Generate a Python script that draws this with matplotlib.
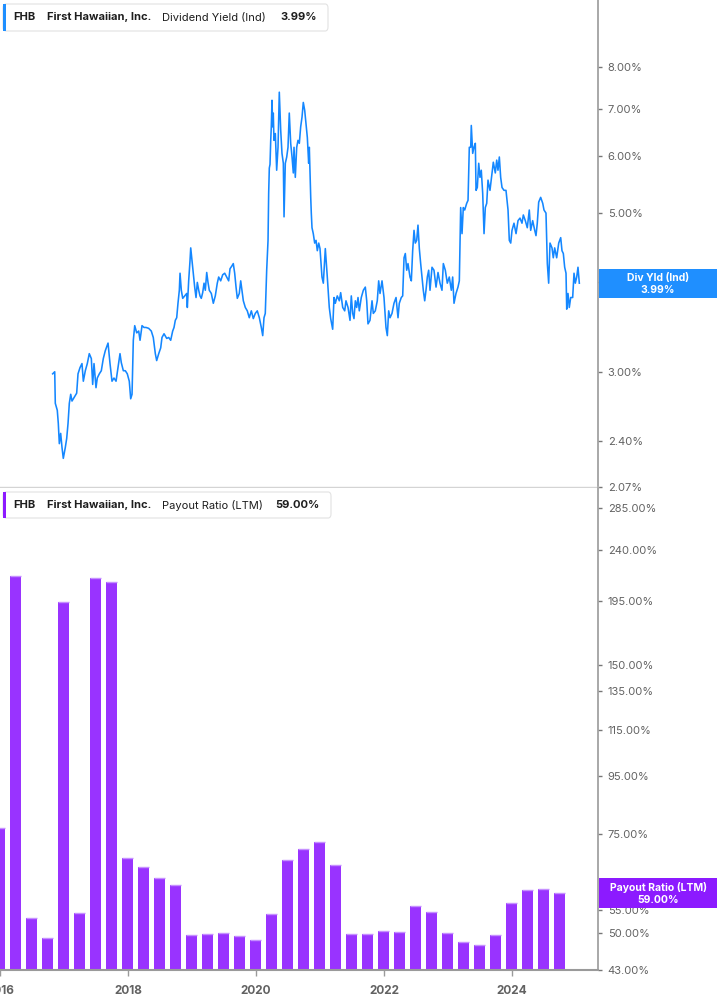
import numpy as np
import pandas as pd
import matplotlib
matplotlib.use("Agg")
import matplotlib.pyplot as plt
from matplotlib.patches import Rectangle, FancyBboxPatch

plt.rcParams["font.family"] = ["Inter", "DejaVu Sans"]

# --------------------------------------------------------------------------- #
# data
# --------------------------------------------------------------------------- #
# dividend yield (ind), decimal year -> %
yld_t = [
    2016.823, 2016.855, 2016.864, 2016.895, 2016.911, 2016.927, 2016.948, 2016.969, 2016.989, 2017.020,
    2017.042, 2017.063, 2017.083, 2017.105, 2017.125, 2017.167, 2017.198, 2017.219, 2017.250, 2017.281,
    2017.302, 2017.333, 2017.364, 2017.395, 2017.427, 2017.448, 2017.469, 2017.500, 2017.520, 2017.552,
    2017.583, 2017.614, 2017.645, 2017.688, 2017.719, 2017.750, 2017.781, 2017.813, 2017.844, 2017.875,
    2017.895, 2017.927, 2017.958, 2017.989, 2018.020, 2018.042, 2018.063, 2018.083, 2018.105, 2018.136,
    2018.167, 2018.188, 2018.219, 2018.250, 2018.281, 2018.323, 2018.364, 2018.395, 2018.427, 2018.448,
    2018.480, 2018.511, 2018.531, 2018.563, 2018.605, 2018.636, 2018.667, 2018.698, 2018.719, 2018.739,
    2018.761, 2018.781, 2018.802, 2018.813, 2018.833, 2018.855, 2018.886, 2018.917, 2018.927, 2018.948,
    2018.969, 2018.980, 2019.000, 2019.020, 2019.042, 2019.063, 2019.083, 2019.105, 2019.125, 2019.145,
    2019.167, 2019.188, 2019.208, 2019.230, 2019.250, 2019.270, 2019.302, 2019.333, 2019.364, 2019.395,
    2019.417, 2019.448, 2019.480, 2019.511, 2019.542, 2019.573, 2019.594, 2019.625, 2019.645, 2019.667,
    2019.688, 2019.708, 2019.739, 2019.761, 2019.781, 2019.802, 2019.833, 2019.864, 2019.895, 2019.927,
    2019.958, 2019.989, 2020.020, 2020.052, 2020.083, 2020.105, 2020.125, 2020.145, 2020.167, 2020.188,
    2020.198, 2020.208, 2020.219, 2020.230, 2020.239, 2020.250, 2020.261, 2020.270, 2020.281, 2020.302,
    2020.323, 2020.344, 2020.364, 2020.386, 2020.406, 2020.427, 2020.438, 2020.458, 2020.480, 2020.500,
    2020.520, 2020.542, 2020.563, 2020.583, 2020.594, 2020.614, 2020.636, 2020.656, 2020.677, 2020.698,
    2020.719, 2020.739, 2020.761, 2020.781, 2020.802, 2020.823, 2020.833, 2020.855, 2020.864, 2020.875,
    2020.895, 2020.917, 2020.938, 2020.958, 2020.980, 2021.000, 2021.031, 2021.052, 2021.083, 2021.114,
    2021.145, 2021.167, 2021.198, 2021.219, 2021.239, 2021.270, 2021.302, 2021.323, 2021.355, 2021.386,
    2021.406, 2021.438, 2021.469, 2021.489, 2021.511, 2021.531, 2021.552, 2021.573, 2021.594, 2021.614,
    2021.645, 2021.677, 2021.708, 2021.730, 2021.750, 2021.781, 2021.813, 2021.833, 2021.864, 2021.895,
    2021.917, 2021.938, 2021.969, 2022.000, 2022.031, 2022.052, 2022.073, 2022.094, 2022.125, 2022.156,
    2022.188, 2022.219, 2022.239, 2022.270, 2022.292, 2022.313, 2022.333, 2022.355, 2022.375, 2022.406,
    2022.427, 2022.448, 2022.469, 2022.489, 2022.511, 2022.531, 2022.552, 2022.573, 2022.594, 2022.614,
    2022.636, 2022.656, 2022.677, 2022.698, 2022.719, 2022.750, 2022.781, 2022.813, 2022.844, 2022.875,
    2022.906, 2022.927, 2022.958, 2022.989, 2023.020, 2023.052, 2023.073, 2023.094, 2023.125, 2023.156,
    2023.177, 2023.198, 2023.219, 2023.239, 2023.261, 2023.292, 2023.313, 2023.333, 2023.355, 2023.364,
    2023.386, 2023.406, 2023.427, 2023.438, 2023.458, 2023.480, 2023.500, 2023.520, 2023.542, 2023.563,
    2023.583, 2023.605, 2023.625, 2023.656, 2023.688, 2023.708, 2023.739, 2023.761, 2023.781, 2023.802,
    2023.823, 2023.844, 2023.875, 2023.906, 2023.938, 2023.958, 2023.980, 2024.000, 2024.031, 2024.063,
    2024.094, 2024.125, 2024.156, 2024.177, 2024.208, 2024.239, 2024.270, 2024.292, 2024.323, 2024.355,
    2024.375, 2024.395, 2024.417, 2024.448, 2024.480, 2024.500, 2024.531, 2024.552, 2024.573, 2024.594,
    2024.625, 2024.645, 2024.667, 2024.698, 2024.730, 2024.761, 2024.781, 2024.802, 2024.823, 2024.844,
    2024.855, 2024.875, 2024.895, 2024.917, 2024.948, 2024.969, 2024.989, 2025.011, 2025.031, 2025.052,
]
yld_v = [
    2.98, 3.00, 2.71, 2.65, 2.54, 2.38, 2.46, 2.35, 2.27, 2.35,
    2.42, 2.54, 2.71, 2.79, 2.73, 2.77, 2.80, 2.98, 3.04, 3.08,
    2.91, 3.01, 3.08, 3.18, 3.13, 2.88, 3.08, 2.85, 2.94, 2.98,
    3.01, 3.13, 3.21, 3.29, 3.08, 2.91, 2.94, 2.91, 3.04, 3.18,
    3.09, 3.01, 3.01, 2.98, 2.91, 2.75, 2.79, 3.32, 3.48, 3.40,
    3.42, 3.32, 3.48, 3.46, 3.46, 3.45, 3.42, 3.35, 3.18, 3.11,
    3.18, 3.24, 3.35, 3.39, 3.34, 3.35, 3.32, 3.42, 3.46, 3.54,
    3.57, 3.74, 3.90, 4.12, 3.90, 3.80, 3.83, 3.86, 3.69, 4.02,
    4.29, 4.47, 4.29, 4.12, 3.94, 3.81, 4.00, 3.90, 3.83, 3.80,
    3.87, 3.99, 3.90, 4.13, 4.00, 3.90, 3.86, 3.74, 3.83, 3.99,
    4.07, 4.02, 4.10, 4.12, 4.07, 4.02, 4.18, 4.22, 4.25, 4.12,
    3.94, 3.80, 3.86, 4.02, 3.90, 3.77, 3.69, 3.65, 3.57, 3.65,
    3.56, 3.62, 3.65, 3.57, 3.46, 3.37, 3.57, 3.62, 4.16, 4.58,
    5.33, 5.78, 5.85, 6.32, 6.60, 7.19, 6.60, 6.90, 6.32, 6.46,
    5.74, 6.18, 7.38, 6.53, 6.06, 5.87, 4.94, 5.87, 5.99, 6.18,
    6.90, 6.26, 5.99, 5.69, 6.18, 5.61, 6.18, 6.32, 6.26, 6.60,
    6.81, 7.14, 6.96, 6.68, 6.38, 5.87, 6.18, 5.26, 5.00, 4.77,
    4.68, 4.54, 4.58, 4.43, 4.54, 4.46, 4.07, 3.99, 4.46, 4.07,
    3.69, 3.56, 3.44, 3.81, 3.74, 3.83, 3.77, 3.87, 3.69, 3.65,
    3.77, 3.69, 3.54, 3.83, 3.62, 3.56, 3.77, 3.69, 3.81, 3.65,
    3.81, 3.90, 3.94, 3.77, 3.50, 3.54, 3.77, 3.62, 3.65, 3.77,
    4.02, 3.86, 4.02, 3.81, 3.46, 3.37, 3.65, 3.57, 3.62, 3.74,
    3.81, 3.57, 3.74, 3.81, 3.83, 4.33, 4.39, 4.16, 4.25, 4.07,
    4.02, 4.43, 4.73, 4.54, 4.58, 4.81, 4.46, 4.25, 4.07, 3.90,
    3.77, 3.90, 4.07, 4.16, 3.90, 4.20, 4.16, 3.94, 4.13, 3.99,
    3.90, 4.25, 4.16, 3.99, 4.07, 3.90, 4.07, 3.74, 3.86, 3.94,
    4.02, 5.09, 4.68, 5.09, 5.05, 5.16, 5.21, 6.18, 6.18, 6.63,
    6.06, 6.18, 6.26, 5.38, 5.43, 5.87, 5.61, 5.74, 5.33, 4.68,
    5.09, 5.16, 5.56, 5.38, 5.69, 5.89, 5.69, 5.93, 5.74, 5.99,
    5.61, 5.43, 5.38, 5.38, 5.05, 4.58, 4.54, 4.73, 4.84, 4.68,
    4.88, 4.92, 4.84, 4.97, 4.88, 4.77, 5.05, 4.73, 4.88, 4.73,
    4.65, 4.84, 5.18, 5.26, 5.16, 5.05, 5.00, 4.25, 3.99, 4.54,
    4.47, 4.33, 4.47, 4.33, 4.54, 4.62, 4.43, 4.39, 4.20, 4.12,
    3.67, 3.86, 3.69, 3.81, 3.81, 4.12, 3.99, 4.07, 4.20, 3.99,
]

# payout ratio (LTM), quarterly, Q4 2015 .. Q3 2024, in %
quarters = pd.period_range("2015Q4", "2024Q3", freq="Q")
payout = [
    77.0, 215.5, 53.2, 49.0, 193.8, 54.3, 213.7, 210.3, 68.1, 65.6,
    62.7, 60.9, 49.6, 49.8, 50.0, 49.4, 48.6, 54.1, 67.5, 70.6,
    72.7, 66.1, 49.8, 49.8, 50.5, 50.2, 55.9, 54.5, 50.0, 48.2,
    47.6, 49.6, 56.6, 59.7, 59.9, 59.0,
]

yld_ticks = [2.07, 2.40, 3.00, 4.00, 5.00, 6.00, 7.00, 8.00]
pay_ticks = [43, 50, 55, 75, 95, 115, 135, 150, 195, 240, 285]
year_ticks = [2016, 2018, 2020, 2022, 2024]

BLUE = "#1487ff"
BOX_BLUE = "#1f8fff"
PURPLE = "#9933ff"
BOX_PURPLE = "#8c1aff"
GREY = "#626262"
SPINE = "#9a9a9a"

W, H = 717, 1005
XMIN, XMAX = 2016.0, 2016.0 + 598 / 64


def fx(px):
    return px / W


def fy(py):
    return 1 - py / H


# --------------------------------------------------------------------------- #
# figure
# --------------------------------------------------------------------------- #
fig = plt.figure(figsize=(W / 100, H / 100), dpi=100)
ax1 = fig.add_axes([0, fy(487), fx(598), 1 - fy(487)])
ax2 = fig.add_axes([0, fy(970), fx(598), fy(488) - fy(970)])

for ax in (ax1, ax2):
    ax.set_xlim(XMIN, XMAX)
    ax.yaxis.tick_right()
    for s in ("left", "top"):
        ax.spines[s].set_visible(False)
    ax.spines["right"].set_color(SPINE)
    ax.spines["right"].set_linewidth(1.2)
    ax.tick_params(axis="y", which="both", direction="out", length=3, width=1,
                   color="#777777", labelsize=8, labelcolor=GREY, pad=4)
    ax.minorticks_off()

# top: dividend yield
ax1.plot(yld_t, yld_v, color=BLUE, lw=1.15)
ax1.set_yscale("log")
ax1.set_ylim(2.07, 9.93)
ax1.set_yticks(yld_ticks)
ax1.set_yticklabels([f"{v:.2f}%" for v in yld_ticks])
ax1.minorticks_off()
ax1.set_xticks([])
ax1.spines["bottom"].set_color("#d4d4d4")
ax1.spines["bottom"].set_linewidth(1.0)

# bottom: payout ratio bars
xq = [q.year + q.quarter / 4 - 0.01 for q in quarters]
base = pay_ticks[0]
ax2.set_yscale("log")
ax2.bar(xq, [v - base for v in payout], bottom=base, width=0.172,
        color=PURPLE, edgecolor="none", zorder=2)
ax2.hlines(payout, [x - 0.086 for x in xq], [x + 0.086 for x in xq],
           color="#c690ff", lw=1.0, zorder=3)
ax2.set_ylim(43, 309.4)
ax2.set_yticks(pay_ticks)
ax2.set_yticklabels([f"{v:.2f}%" for v in pay_ticks])
ax2.minorticks_off()
ax2.set_xticks(year_ticks)
ax2.set_xticklabels([str(y) for y in year_ticks])
ax2.tick_params(axis="x", direction="out", length=4, width=1, color=SPINE,
                labelsize=8.5, labelcolor=GREY, pad=7)
for lab in ax2.get_xticklabels():
    lab.set_fontweight("bold")
ax2.spines["bottom"].set_color(SPINE)
ax2.spines["bottom"].set_linewidth(1.5)


# --------------------------------------------------------------------------- #
# legend boxes (top-left) and last-value tags (right)
# --------------------------------------------------------------------------- #
def legend_box(y0, h, w, color, metric, value, value_x):
    fig.patches.append(FancyBboxPatch((fx(3), fy(y0 + h)), fx(w), h / H,
                                      boxstyle="round,pad=0,rounding_size=0.004",
                                      transform=fig.transFigure, facecolor="white",
                                      edgecolor="#e2e2e2", lw=0.8, zorder=5))
    fig.patches.append(Rectangle((fx(3), fy(y0 + h)), fx(3), h / H,
                                 transform=fig.transFigure, facecolor=color,
                                 edgecolor="none", zorder=6))
    yc = fy(y0 + h / 2)
    kw = dict(va="center", ha="left", fontsize=8, color="#1e1e1e", zorder=7)
    fig.text(fx(13), yc, "FHB", fontweight="bold", **kw)
    fig.text(fx(47), yc, "First Hawaiian, Inc.", fontweight="bold", **kw)
    fig.text(fx(162), yc, metric, **kw)
    fig.text(fx(value_x), yc, value, fontweight="bold", **kw)


legend_box(4, 27, 325, BOX_BLUE, "Dividend Yield (Ind)", "3.99%", 280)
legend_box(492, 26, 328, BOX_PURPLE, "Payout Ratio (LTM)", "59.00%", 275)


def value_tag(y0, y1, color, name, value):
    fig.patches.append(Rectangle((fx(599), fy(y1)), fx(W - 599), (y1 - y0) / H,
                                 transform=fig.transFigure, facecolor=color,
                                 edgecolor="none", zorder=8))
    xc = fx(658)
    kw = dict(ha="center", va="center", fontsize=7.5, fontweight="bold",
              color="white", zorder=9)
    fig.text(xc, fy(y0 + (y1 - y0) * 0.3), name, **kw)
    fig.text(xc, fy(y0 + (y1 - y0) * 0.72), value, **kw)


value_tag(269, 298, BOX_BLUE, "Div Yld (Ind)", "3.99%")
value_tag(878, 908, BOX_PURPLE, "Payout Ratio (LTM)", "59.00%")

fig.savefig("out.png", dpi=100)
